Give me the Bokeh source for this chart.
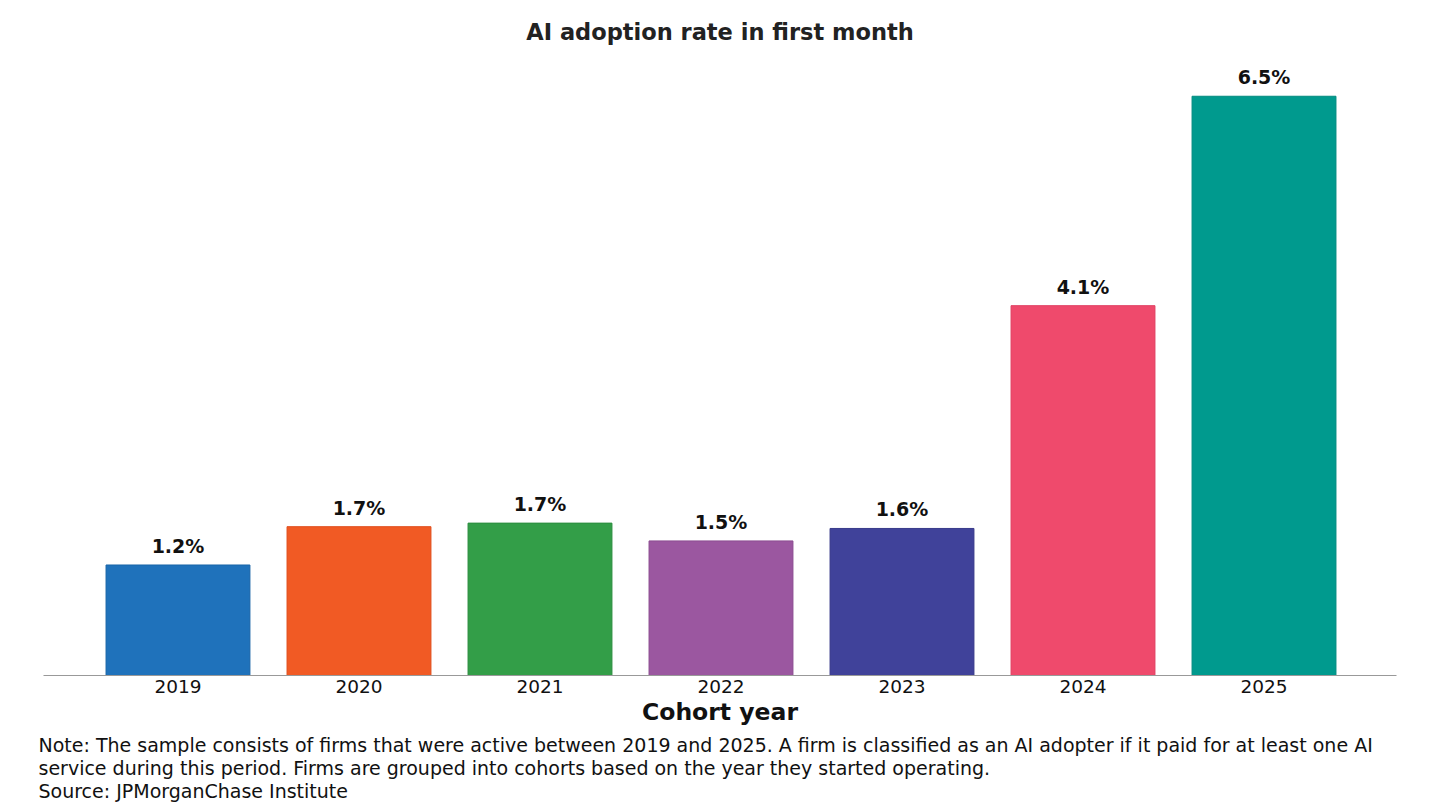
from bokeh.plotting import figure
from bokeh.models import ColumnDataSource, Range1d, Title, FixedTicker
from bokeh.core.properties import value
from bokeh.embed import file_html
from bokeh.resources import INLINE

years = ["2019", "2020", "2021", "2022", "2023", "2024", "2025"]
rates = [1.24, 1.67, 1.71, 1.51, 1.65, 4.15, 6.5]
rate_labels = ["1.2%", "1.7%", "1.7%", "1.5%", "1.6%", "4.1%", "6.5%"]
colors = ["#1f72bb", "#f15a24", "#339e48", "#9b57a0", "#40429a", "#ef4a6c", "#009a8e"]
outlines = ["#1a66a8", "#e04e1c", "#2c8d3f", "#8c4c91", "#383a8a", "#e03f61", "#008a7f"]

title_text = "AI adoption rate in first month"
xlabel = "Cohort year"
note_lines = [
    "Note: The sample consists of firms that were active between 2019 and 2025. A firm is classified as an AI adopter if it paid for at least one AI",
    "service during this period. Firms are grouped into cohorts based on the year they started operating.",
]
source_text = "Source: JPMorganChase Institute"

FONT = "DejaVu Sans"

idx = list(range(len(years)))
src = ColumnDataSource(dict(x=idx, top=rates, lab=rate_labels, color=colors, line=outlines))

p = figure(width=1424, height=805, output_backend="svg", toolbar_location=None,
           x_range=Range1d(-0.743, 6.732), y_range=Range1d(0, 6.89),
           min_border_left=43, min_border_right=28, min_border_top=60, min_border_bottom=0)

p.title.text = title_text
p.title.align = "center"
p.title.text_font = FONT
p.title.text_font_size = "22.5px"
p.title.text_font_style = "bold"
p.title.text_color = "#222222"
p.title.standoff = 33

p.vbar(x="x", top="top", width=0.795, bottom=0, source=src,
       fill_color="color", line_color="line", line_width=1)
p.text(x="x", y="top", text="lab", source=src, text_align="center",
       text_baseline="bottom", y_offset=-8, text_font=value(FONT),
       text_font_size="19px", text_font_style="bold", text_color="#111111")

p.yaxis.visible = False
p.xgrid.visible = False
p.ygrid.visible = False
p.outline_line_color = None

ax = p.xaxis[0]
ax.ticker = FixedTicker(ticks=idx)
ax.major_label_overrides = {i: y for i, y in zip(idx, years)}
ax.major_tick_line_color = None
ax.major_tick_out = 0
ax.major_tick_in = 0
ax.minor_tick_line_color = None
ax.minor_tick_out = 0
ax.axis_line_color = "#999999"
ax.axis_line_width = 1.2
ax.major_label_standoff = 4
ax.major_label_text_font = FONT
ax.major_label_text_font_size = "18.5px"
ax.major_label_text_color = "#111111"
ax.axis_label = xlabel
ax.axis_label_text_font = FONT
ax.axis_label_text_font_size = "23.5px"
ax.axis_label_text_font_style = "bold"
ax.axis_label_text_color = "#111111"
ax.axis_label_standoff = 2

p.add_layout(Title(text="\n".join(note_lines + [source_text]), align="left", offset=-5,
                   text_font=FONT, text_font_size="19px", text_font_style="normal",
                   text_line_height=1.04, text_color="#111111", standoff=7), "below")

open("out.html", "w").write(file_html(p, INLINE))
